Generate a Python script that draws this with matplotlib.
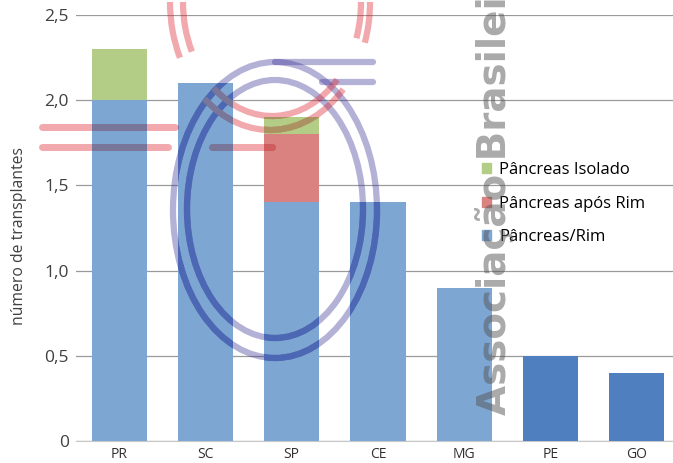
import matplotlib
matplotlib.use('Agg')
import matplotlib.pyplot as plt
from matplotlib.patches import Ellipse, Arc, Patch
from matplotlib.lines import Line2D
from matplotlib.colors import to_rgb
import numpy as np

plt.rcParams['font.family'] = ['Open Sans', 'DejaVu Sans']

estados = ['PR', 'SC', 'SP', 'CE', 'MG', 'PE', 'GO']
pancreas_rim = [2.0, 2.1, 1.4, 1.4, 0.9, 0.5, 0.4]
pancreas_apos_rim = [0.0, 0.0, 0.4, 0.0, 0.0, 0.0, 0.0]
pancreas_isolado = [0.3, 0.0, 0.1, 0.0, 0.0, 0.0, 0.0]
y_ticks = [0, 0.5, 1.0, 1.5, 2.0, 2.5]
y_labels = ['0', '0,5', '1,0', '1,5', '2,0', '2,5']

azul = '#7ea6d3'
azul_escuro = '#4f7fbe'
vermelho = '#d9827f'
verde = '#b3cc86'

W, H = 673, 463
fig = plt.figure(figsize=(W / 100, H / 100), dpi=100)
ax = fig.add_axes([76 / W, 22 / H, 597 / W, 426 / H])

x = np.arange(len(estados))
cores_rim = [azul] * 5 + [azul_escuro] * 2
base2 = np.array(pancreas_rim) + np.array(pancreas_apos_rim)
b1 = ax.bar(x, pancreas_rim, width=0.64, color=cores_rim, zorder=2)
b2 = ax.bar(x, pancreas_apos_rim, width=0.64, bottom=pancreas_rim, color=vermelho, zorder=2)
b3 = ax.bar(x, pancreas_isolado, width=0.64, bottom=base2, color=verde, zorder=2)

ax.set_xlim(-0.5, 6.42)
ax.set_ylim(0, 2.5)
ax.set_yticks(y_ticks)
ax.set_yticklabels(y_labels)
ax.set_xticks(x)
ax.set_xticklabels(estados)
ax.tick_params(axis='y', length=0, pad=5, labelsize=12.5, labelcolor='#404040')
ax.tick_params(axis='x', length=0, pad=4, labelsize=10, labelcolor='#303030')
ax.grid(axis='y', color='#9a9a9a', linewidth=0.9, zorder=0)
for s in ['top', 'right', 'left']:
    ax.spines[s].set_visible(False)
ax.spines['bottom'].set_color('#c8c8c8')
ax.spines['bottom'].set_zorder(1)

ax.set_ylabel('número de transplantes', fontsize=11.3, color='#404040')
ax.yaxis.set_label_coords(-0.082, 0.481)

handles = [Patch(color=verde), Patch(color=vermelho), Patch(color=azul)]
labels = ['Pâncreas Isolado', 'Pâncreas após Rim', 'Pâncreas/Rim']
ax.legend(handles, labels, loc='upper left', bbox_to_anchor=((482 - 76) / 597, (441 - 162) / 426),
          frameon=False, fontsize=12, handlelength=0.55, handleheight=0.55,
          handletextpad=0.48, labelspacing=1.05, borderaxespad=0, borderpad=0)


# marca d'agua (coordenadas em pixels da imagem, origem no topo)
def fx(px):
    return px / W


def fy(py):
    return 1 - py / H


def marcas(cor_roxo, cor_verm, alpha):
    arts = []
    for cx, cy, w, h in [(275, 210, 204, 296), (275, 209, 176, 258)]:
        arts.append(Ellipse((fx(cx), fy(cy)), w / W, h / H, fill=False,
                            edgecolor=cor_roxo, alpha=alpha, linewidth=4.5))
    for y0, x0, x1 in [(62, 275, 373), (82, 322, 373)]:
        arts.append(Line2D([fx(x0), fx(x1)], [fy(y0), fy(y0)], color=cor_roxo, alpha=alpha,
                           linewidth=4.5, solid_capstyle='round'))
    for cx, cy, w, h in [(270, 2, 200, 256), (272, 2, 178, 228)]:
        for t1, t2 in [(180, 222), (245, 300), (328, 360)]:
            arts.append(Arc((fx(cx), fy(cy)), w / W, h / H, theta1=t1, theta2=t2,
                            edgecolor=cor_verm, alpha=alpha, linewidth=4.5))
    for y0, x0, x1 in [(127, 42, 175), (147, 42, 168), (147, 212, 272)]:
        arts.append(Line2D([fx(x0), fx(x1)], [fy(y0), fy(y0)], color=cor_verm, alpha=alpha,
                           linewidth=5, solid_capstyle='round'))
    return arts


lav_barra = np.array([0.6, 0.62, 0.85])
verm_barra = np.array([243, 183, 186]) / 255

for a in marcas('#3c3296', '#dc1e28', 0.38):
    a.set_zorder(5)
    fig.add_artist(a)

# sobre as barras a marca escurece (efeito de multiplicacao)
for cont in [b1, b2, b3]:
    for bar in cont:
        if bar.get_height() <= 0:
            continue
        c = np.array(to_rgb(bar.get_facecolor()))
        for a in marcas(tuple(c * lav_barra), tuple(c * verm_barra), 1.0):
            a.set_zorder(6)
            fig.add_artist(a)
            a.set_clip_path(bar)
            a.set_clip_on(True)

fig.text(fx(495), fy(415), 'Associação Brasileira', rotation=90, ha='center', va='bottom',
         fontsize=28, fontweight='bold', family='DejaVu Sans', color='#555555', alpha=0.5,
         zorder=7)

fig.savefig('out.png', dpi=100)
